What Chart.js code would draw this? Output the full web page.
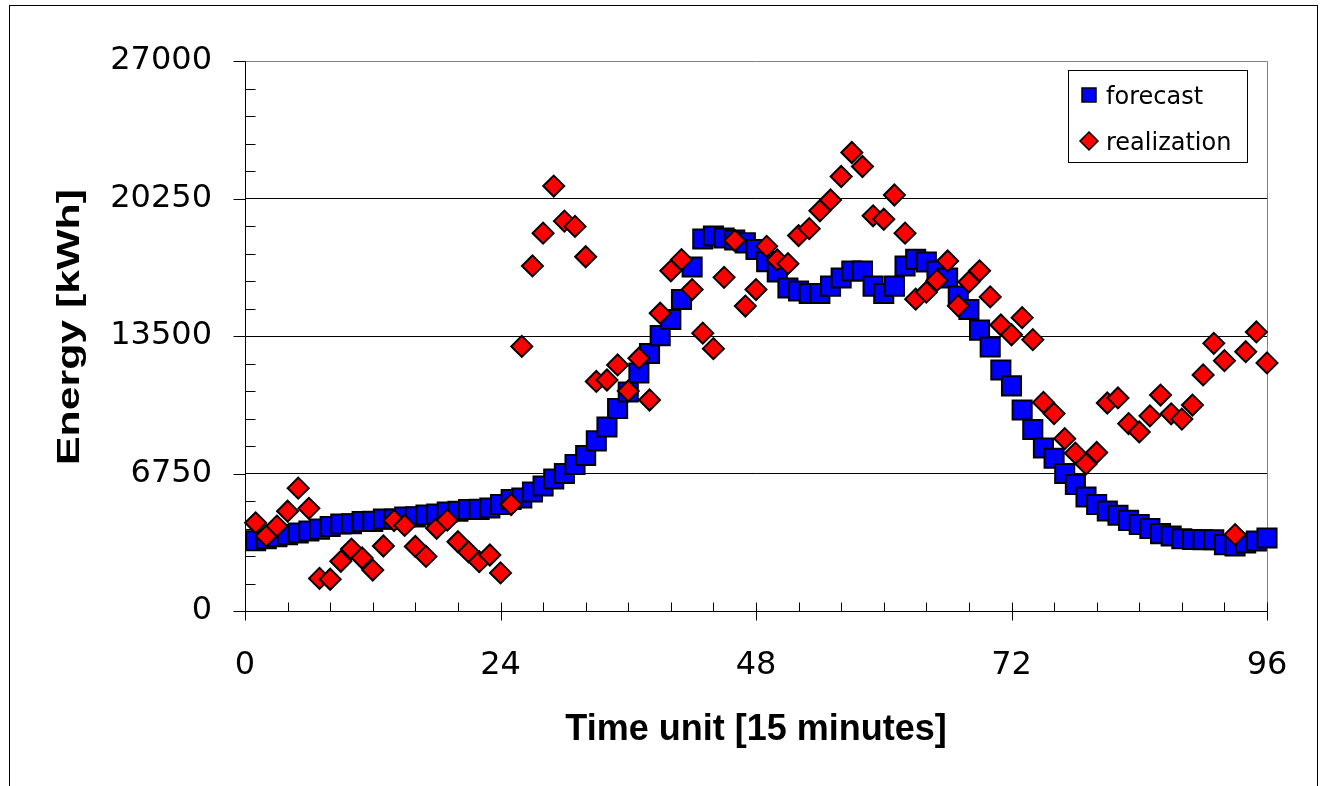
<!DOCTYPE html>
<html>
<head>
<meta charset="utf-8">
<title>Forecast vs realization</title>
<script src="https://cdn.jsdelivr.net/npm/chart.js@4.4.1/dist/chart.umd.min.js"></script>
<style>
  html, body { margin: 0; padding: 0; background: #fff; }
  #wrap { width: 1327px; height: 786px; }
</style>
</head>
<body>
<div id="wrap"><canvas id="energyChart" width="1327" height="786"></canvas></div>
<script>
// time units (15 minute slots)
const timeUnits = [
  1, 2, 3, 4, 5, 6, 7, 8, 9, 10, 11, 12, 13, 14, 15, 16, 17, 18, 19, 20, 21, 22, 23, 24,
  25, 26, 27, 28, 29, 30, 31, 32, 33, 34, 35, 36, 37, 38, 39, 40, 41, 42, 43, 44, 45, 46, 47, 48,
  49, 50, 51, 52, 53, 54, 55, 56, 57, 58, 59, 60, 61, 62, 63, 64, 65, 66, 67, 68, 69, 70, 71, 72,
  73, 74, 75, 76, 77, 78, 79, 80, 81, 82, 83, 84, 85, 86, 87, 88, 89, 90, 91, 92, 93, 94, 95, 96
];

// forecast energy, kWh
const forecastKWh = [
  3450, 3550, 3650, 3750, 3830, 3930, 4020, 4150, 4270, 4280, 4390, 4400,
  4510, 4520, 4610, 4620, 4710, 4760, 4860, 4900, 4980, 4990, 5060, 5230,
  5470, 5550, 5840, 6140, 6480, 6750, 7190, 7630, 8350, 9030, 9940, 10750,
  11680, 12640, 13520, 14310, 15290, 16890, 18260, 18410, 18310, 18210, 18070, 17750,
  17150, 16650, 15860, 15710, 15590, 15590, 15950, 16350, 16690, 16690, 15950, 15590,
  15950, 16940, 17260, 17130, 16690, 16350, 15460, 14800, 13790, 12960, 11830, 11050,
  9870, 8910, 8000, 7500, 6750, 6210, 5600, 5230, 4910, 4700, 4450, 4250,
  4050, 3800, 3680, 3550, 3510, 3500, 3500, 3260, 3190, 3340, 3440, 3580
];

// realized energy, kWh
const realizationKWh = [
  4330, 3680, 4170, 4900, 6030, 5040, 1600, 1560, 2440, 3040, 2600, 2010,
  3190, 4440, 4200, 3170, 2680, 4060, 4460, 3400, 2900, 2420, 2750, 1870,
  5230, 12990, 16940, 18550, 20860, 19140, 18880, 17390, 11270, 11340, 12080, 10800,
  12410, 10360, 14620, 16700, 17250, 15780, 13640, 12880, 16380, 18190, 14970, 15780,
  17900, 17230, 17050, 18430, 18770, 19650, 20180, 21330, 22510, 21820, 19400, 19230,
  20420, 18550, 15310, 15650, 16230, 17180, 14980, 16150, 16700, 15420, 14040, 13560,
  14400, 13320, 10240, 9690, 8460, 7750, 7220, 7780, 10210, 10460, 9200, 8790,
  9580, 10600, 9680, 9420, 10110, 11590, 13140, 12290, 3750, 12730, 13700, 12180
];

// axis ticks
const xTickLabels = [0, 24, 48, 72, 96];
const yTickLabels = [0, 6750, 13500, 20250, 27000];
const xMinorStep = 4;
const yMinorStep = 1350;

const seriesNames = ['forecast', 'realization'];

// frame, plot borders, inside/outside tick marks, y title
const decorPlugin = {
  id: 'decor',
  beforeDatasetsDraw(chart) {
    const ctx = chart.ctx;
    const area = chart.chartArea;
    const xs = chart.scales.x;
    const ys = chart.scales.y;
    const left = Math.round(area.left) + 0.5;
    const bottom = Math.round(area.bottom) + 0.5;
    ctx.save();
    // gray plot border top / right
    ctx.strokeStyle = '#808080';
    ctx.lineWidth = 1;
    ctx.beginPath();
    ctx.moveTo(left, Math.round(area.top) + 0.5);
    ctx.lineTo(Math.round(area.right) + 0.5, Math.round(area.top) + 0.5);
    ctx.lineTo(Math.round(area.right) + 0.5, bottom);
    ctx.stroke();

    ctx.strokeStyle = '#000';
    for (let v = xs.min; v <= xs.max; v += xMinorStep) {
      const px = Math.round(xs.getPixelForValue(v)) + 0.5;
      const major = xTickLabels.includes(v);
      ctx.beginPath();
      ctx.moveTo(px, bottom - 9);
      ctx.lineTo(px, bottom + (major ? 9 : 0));
      ctx.stroke();
    }
    for (let v = ys.min; v <= ys.max; v += yMinorStep) {
      const py = Math.round(ys.getPixelForValue(v)) + 0.5;
      ctx.beginPath();
      if (yTickLabels.includes(v)) {
        ctx.moveTo(left - 12, py);
        ctx.lineTo(left, py);
      } else {
        ctx.moveTo(left, py);
        ctx.lineTo(left + 10, py);
      }
      ctx.stroke();
    }
    ctx.restore();
  },
  afterDraw(chart) {
    const ctx = chart.ctx;
    ctx.save();
    // outer chart frame
    ctx.strokeStyle = '#000';
    ctx.lineWidth = 1;
    ctx.strokeRect(9.5, 5.5, 1308, 900);

    // y axis title, condensed like the original
    ctx.font = 'bold 32px "Liberation Sans", Arial, sans-serif';
    const label = 'Energy [kWh]';
    const w = ctx.measureText(label).width;
    ctx.translate(79, 327);
    ctx.rotate(-Math.PI / 2);
    ctx.scale(276 / w, 1);
    ctx.fillStyle = '#000';
    ctx.textAlign = 'center';
    ctx.textBaseline = 'alphabetic';
    ctx.fillText(label, 0, 0);
    ctx.restore();

    // legend box
    ctx.save();
    const lx = 1068, ly = 70, lw = 179, lh = 92;
    ctx.fillStyle = '#fff';
    ctx.fillRect(lx, ly, lw, lh);
    ctx.strokeStyle = '#000';
    ctx.lineWidth = 1;
    ctx.strokeRect(lx + 0.5, ly + 0.5, lw, lh);

    ctx.lineWidth = 1.5;
    ctx.fillStyle = '#0000ff';
    ctx.fillRect(1082, 88, 14, 14);
    ctx.strokeRect(1082, 88, 14, 14);

    ctx.beginPath();
    ctx.moveTo(1089, 132);
    ctx.lineTo(1098, 141);
    ctx.lineTo(1089, 150);
    ctx.lineTo(1080, 141);
    ctx.closePath();
    ctx.fillStyle = '#ff0000';
    ctx.fill();
    ctx.stroke();

    ctx.fillStyle = '#000';
    ctx.font = '24px "DejaVu Sans", sans-serif';
    ctx.textAlign = 'left';
    ctx.textBaseline = 'alphabetic';
    ctx.fillText(seriesNames[0], 1106, 104);
    ctx.fillText(seriesNames[1], 1106, 150);
    ctx.restore();
  }
};

document.addEventListener('DOMContentLoaded', function() {
  const ctx = document.getElementById('energyChart').getContext('2d');

  const forecastPoints = timeUnits.map((t, i) => ({ x: t, y: forecastKWh[i] }));
  const realizationPoints = timeUnits.map((t, i) => ({ x: t, y: realizationKWh[i] }));

  new Chart(ctx, {
    type: 'scatter',
    data: {
      datasets: [
        {
          label: seriesNames[0],
          data: forecastPoints,
          pointStyle: 'rect',
          pointRadius: 13.5,
          pointHoverRadius: 13.5,
          backgroundColor: '#0000ff',
          borderColor: '#000',
          borderWidth: 2,
          clip: false,
          order: 2
        },
        {
          label: seriesNames[1],
          data: realizationPoints,
          pointStyle: 'rectRot',
          pointRadius: 10.5,
          pointHoverRadius: 10.5,
          backgroundColor: '#ff0000',
          borderColor: '#000',
          borderWidth: 2,
          clip: false,
          order: 1
        }
      ]
    },
    options: {
      responsive: false,
      animation: false,
      events: [],
      layout: { padding: { left: 0, right: 60, top: 61, bottom: 0 } },
      plugins: {
        legend: { display: false },
        tooltip: { enabled: false }
      },
      scales: {
        x: {
          type: 'linear',
          min: 0,
          max: 96,
          afterFit(scale) { scale.height = 175; },
          ticks: {
            stepSize: 24,
            autoSkip: false,
            maxRotation: 0,
            padding: 35,
            color: '#000',
            font: { family: '"DejaVu Sans", sans-serif', size: 32 },
            callback: (v) => xTickLabels.includes(v) ? String(v) : ''
          },
          grid: { drawOnChartArea: false, drawTicks: false },
          border: { display: true, color: '#000', width: 1 },
          title: {
            display: true,
            text: 'Time unit [15 minutes]',
            color: '#000',
            font: { family: '"Liberation Sans", Arial, sans-serif', size: 36, weight: 'bold' },
            padding: { top: 0, bottom: 34 }
          }
        },
        y: {
          type: 'linear',
          min: 0,
          max: 27000,
          afterFit(scale) { scale.width = 245; },
          ticks: {
            stepSize: 6750,
            padding: 33,
            color: '#000',
            font: { family: '"DejaVu Sans", sans-serif', size: 32 },
            callback: (v) => yTickLabels.includes(v) ? String(v) : ''
          },
          grid: {
            drawTicks: false,
            color: (c) => c.tick && c.tick.value === 27000 ? 'rgba(0,0,0,0)' : '#000',
            lineWidth: 1
          },
          border: { display: true, color: '#000', width: 1 }
        }
      }
    },
    plugins: [decorPlugin]
  });
});
</script>
</body>
</html>
